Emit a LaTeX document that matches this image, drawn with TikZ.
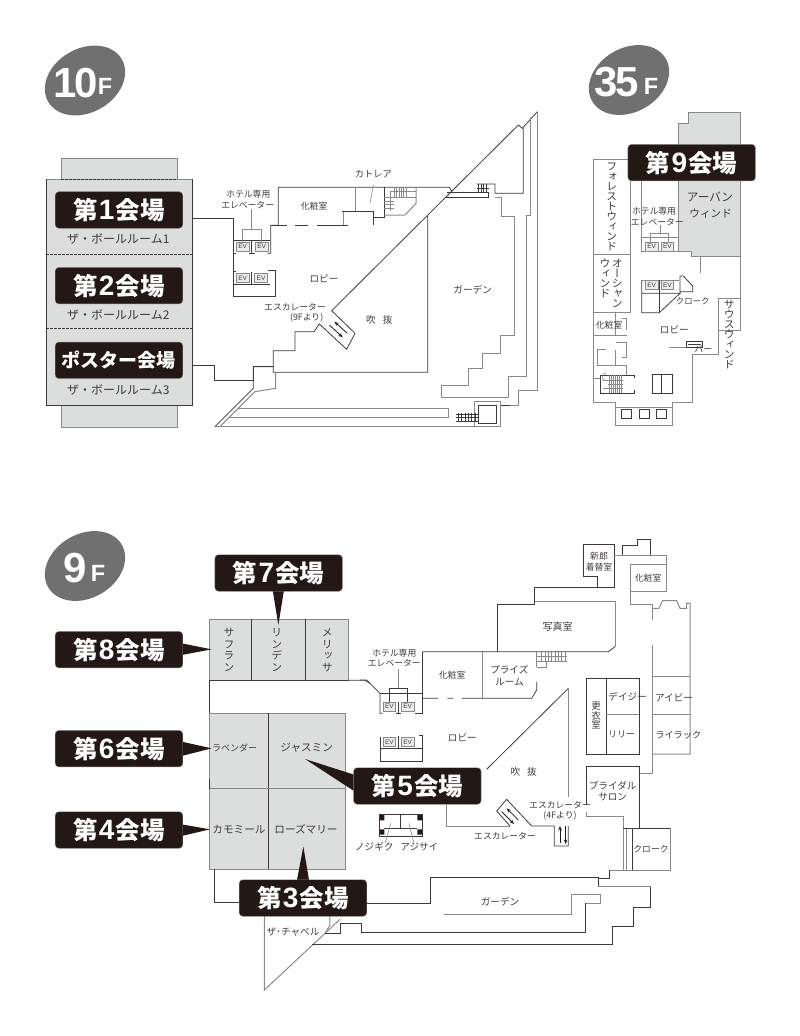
\documentclass[tikz,border=0pt]{standalone}
\usepackage{fontspec}
\setmainfont{Noto Sans CJK JP}
\newfontfamily\jp{Noto Sans CJK JP}
\newfontfamily\jpv[RawFeature={+vert}]{Noto Sans CJK JP}
\newfontfamily\lat{Liberation Sans}
\definecolor{dk}{HTML}{3E3A39}
\definecolor{md}{HTML}{898989}
\definecolor{rm}{HTML}{DCDDDD}
\definecolor{blk}{HTML}{231815}
\definecolor{oval}{HTML}{717071}
\definecolor{txt}{HTML}{3E3A39}
\newcommand{\fs}[1]{\fontsize{#1}{#1}\selectfont}
\newcommand{\hallt}[1]{第\hspace{1.2pt}{\lat\bfseries\fs{28}#1}\hspace{1.2pt}会場}
\newcommand{\vs}[1]{\jpv\fs{10.8}\baselineskip=#1pt\relax}
\newcommand{\vk}{\jp\fs{9.5}\baselineskip=9.5pt\relax}
\tikzset{
  dl/.style={draw=dk,line width=.8pt},
  gl/.style={draw=md,line width=1pt},
  room/.style={fill=rm,draw=md,line width=1pt},
  dash1/.style={draw=dk,line width=.8pt,dash pattern=on 2.5pt off 1.5pt},
  hall/.style={fill=blk,draw=md,line width=.4pt,rounded corners=3.5pt,minimum width=127.5pt,minimum height=36.5pt,inner sep=0pt,text=white,font=\jp\bfseries\fs{24.5}},
  lb/.style={inner sep=0pt,text=txt,align=center,font=\jp\fs{8.8}},
  lbg/.style={lb,font=\jp\fs{9.6}},
  lbm/.style={lb,font=\jp\fs{10.6}},
  lbb/.style={lb,font=\jp\fs{12}},
  fbig/.style={text=white,inner sep=0pt,font=\lat\bfseries\fs{42}},
  fsmall/.style={text=white,inner sep=0pt,font=\lat\bfseries\fs{23.5}},
  ev/.style={draw=md,fill=rm!60,line width=.9pt,minimum width=12.6pt,minimum height=9pt,inner sep=0pt,text=dk,font=\lat\fs{6.5}},
  badge/.style={fill=oval,draw=none},
  tip/.style={fill=blk,draw=none},
  arr/.style={draw=blk,line width=.8pt,-{Stealth[length=4.5pt,width=3.5pt]}},
  zA/.style={xshift=30pt,yshift=-40pt,x=.33333pt,y=-.33333pt},
  zB/.style={xshift=210pt,yshift=-120pt,x=.33333pt,y=-.33333pt},
  zC/.style={xshift=580pt,yshift=-60pt,x=.33333pt,y=-.33333pt},
  zD/.style={xshift=580pt,yshift=-250pt,x=.33333pt,y=-.33333pt},
  zE/.style={xshift=30pt,yshift=-520pt,x=.33333pt,y=-.33333pt},
  zF/.style={xshift=30pt,yshift=-760pt,x=.33333pt,y=-.33333pt},
  zG/.style={xshift=360pt,yshift=-530pt,x=.33333pt,y=-.33333pt},
  zH/.style={xshift=340pt,yshift=-740pt,x=.33333pt,y=-.33333pt},
}
\usetikzlibrary{arrows.meta}
\begin{document}
\begin{tikzpicture}[x=1pt,y=-1pt]
\useasboundingbox (0,0) rectangle (800,1036);

%% ---------- floor badges
\fill[badge,rotate around={30:(85,80.5)}] (85,80.5) ellipse [x radius=42.5,y radius=32];
\node[fbig] (b10) at (75.5,83) {1\kern-2pt0};
\node[fsmall] (b10f) at (105,86.5) {F};
\fill[badge,rotate around={30:(629,80)}] (629,80) ellipse [x radius=42.5,y radius=32];
\node[fbig] (b35) at (616.5,82) {3\kern-2pt5};
\node[fsmall] (b35f) at (651,86.5) {F};
\fill[badge,rotate around={30:(85,566)}] (85,566) ellipse [x radius=42.5,y radius=32];
\node[fbig] (b9) at (75,568) {9};
\node[fsmall] (b9f) at (98,573.5) {F};

%% ---------- 10F ballrooms
\begin{scope}[zA]
\path[room] (94,355) rectangle (442,418);
\path[room] (94,1096) rectangle (442,1162);
\path[room] (48,418) rectangle (487,1096);
\draw[dash1] (94,418) -- (442,418);
\draw[dash1] (94,1096) -- (442,1096);
\draw[dash1] (48,643) -- (487,643);
\draw[dash1] (48,866) -- (487,866);
\draw[dk,line width=1pt] (48,418) -- (48,1096) -- (487,1096) -- (487,418);
\node[hall] (h1) at (267,510) {\hallt{1}};
\node[hall] (h2) at (267,737) {\hallt{2}};
\node[hall,font=\jp\bfseries\fs{19}] (hp) at (267,961) {ポスター会場};
\node[lbb] (s1) at (265,597) {ザ・ボールルーム1};
\node[lbb] (s2) at (265,825) {ザ・ボールルーム2};
\node[lbb] (s3) at (265,1050) {ザ・ボールルーム3};
\draw[dl] (487,535) -- (610,535) -- (610,770) -- (735,770) -- (735,692) -- (722,692);
\draw[dl] (487,975) -- (553,975) -- (553,1020) -- (670,1020) -- (670,980) -- (730,980);
\end{scope}

%% ---------- 10F plan
\begin{scope}[zB]
% upper walls
\draw[dl] (125,400) -- (125,360);
\draw[dl] (70,360) -- (70,400) -- (78,400);
\draw[dl] (70,360) -- (180,360);
\draw[dl] (118,400) -- (135,400);
\draw[dl] (172,400) -- (182,400) -- (182,316) -- (205,316) -- (205,202) -- (718,202) -- (726,214);
\draw[dl] (182,316) -- (232,316) (255,316) -- (295,316) (322,316) -- (415,316);
\draw[gl] (437,202) -- (437,275);
\draw[dl] (397,275) -- (490,275) -- (490,316);
\draw[gl] (400,275) -- (400,316);
\draw[dl] (490,292) -- (523,292) -- (523,202);
\draw[gl] (523,285) -- (585,285) -- (618,250) -- (618,202);
\foreach \x in {553,560,...,588} \draw[md,line width=.6pt] (\x,202) -- (\x,232);
\draw[md,line width=.6pt] (553,232) -- (618,232) (540,215) -- (618,215);
\foreach \y in {232,243,254,265} \draw[md,line width=.6pt] (523,\y) -- (553,\y);
\draw[md,line width=.6pt] (540,215) -- (540,272);
\draw[gl,line width=.6pt] (490,195) -- (480,250);
% EV
\node[ev] (e1) at (98,380) {EV};
\node[ev] (e2) at (155,380) {EV};
\node[ev] (e3) at (98,475) {EV};
\node[ev] (e4) at (153,475) {EV};
\draw[dl] (78,453) -- (70,453) -- (70,400);
\draw[dl] (125,455) -- (125,493);
\draw[dl] (70,530) -- (70,400);
\draw[dl] (70,530) -- (197,530) -- (197,452) -- (175,452);
\draw[dl] (70,493) -- (180,493);
\draw[gl] (125,268) -- (125,328);
\draw[gl] (97,365) -- (97,328) -- (153,328) -- (153,365);
% atrium
\draw[dl] (925,15) -- (365,572) -- (435,640) -- (410,688) -- (328,612) -- (312,635) -- (255,635) -- (255,692) -- (190,692) -- (190,757) -- (653,757) -- (653,288);
\draw[arr] (412,640) -- (373,605);
\draw[arr] (358,615) -- (398,652);
% right structure
\draw[dl] (712,218) -- (835,218) -- (835,232) -- (708,232);
\draw[dl] (925,15) -- (937,25) -- (940,25) -- (940,220) -- (855,220) -- (855,192) -- (800,192);
\draw[dl] (937,25) -- (982,-25);
\foreach \x in {805,813,821,829} \draw[dk,line width=.5pt] (\x,192) -- (\x,218);
\draw[dk,line width=.5pt] (800,205) -- (838,205);
\draw[gl] (855,232) -- (875,232) -- (875,290) -- (913,290) -- (913,645) -- (870,645) -- (870,700) -- (818,700) -- (818,745) -- (775,745) -- (775,795) -- (695,795) -- (695,832) -- (895,832) -- (895,770) -- (948,770) -- (948,285) -- (960,285) -- (960,-10);
\draw[gl] (982,-25) -- (982,812) -- (925,812) -- (925,855) -- (870,855);
\draw[dl] (870,855) -- (900,855);
\draw[gl] (793,845) rectangle (870,920);
\draw[dl] (805,855) rectangle (860,910);
\draw[gl] (15,920) -- (793,920);
\draw[gl] (85,865) -- (715,865) -- (715,892) -- (60,892);
\draw[dl] (15,920) -- (130,805) -- (130,740) -- (190,740);
\draw[gl] (30,920) -- (135,815) -- (197,805) -- (197,757);
\foreach \x in {745,755,...,795} \draw[dk,line width=.5pt] (\x,880) -- (\x,905);
\draw[dk,line width=.5pt] (738,883) -- (805,883) (738,893) -- (805,893) (738,903) -- (805,903);
% labels
\node[lb,font=\jp\fs{9.2}] (t1) at (490,163) {カトレア};
\node[lb] (t2) at (115,222) {ホテル専用};
\node[lb] (t3) at (113,255) {エレベーター};
\node[lb] (t4) at (313,257) {化粧室};
\node[lbg] (t5) at (342,475) {ロビー};
\node[lb] (t6) at (255,562) {エスカレーター};
\node[lb] (t7) at (290,592) {(9Fより)};
\node[lbg] (t8) at (508,600) {吹\hspace{7pt}抜};
\node[lbg] (t9) at (788,510) {ガーデン};
\end{scope}

%% ---------- 35F
\begin{scope}[zC]
\path[room] (325,157) -- (480,157) -- (480,590) -- (335,590) -- (335,575) -- (295,575) -- (295,190) -- (325,190) -- cycle;
\draw[gl] (40,298) -- (143,298);
\draw[gl] (40,298) -- (40,582) -- (150,582);
\draw[gl] (150,362) -- (150,582);
\draw[gl] (185,362) -- (185,575) -- (295,575);
\draw[gl] (185,532) -- (295,532);
\draw[gl] (212,545) -- (212,520) -- (265,520) -- (265,545);
\draw[gl] (240,495) -- (240,520);
\node[ev] (e5) at (215,560) {EV};
\node[ev] (e6) at (262,560) {EV};
\node[hall] (h9) at (335,308) {\hallt{9}};
\node[inner sep=0pt,text=txt,font=\vs{10},align=center] (v1) at (95,442) {フ\\ォ\\レ\\ス\\ト\\ウ\\ィ\\ン\\ド};
\node[lb] (t10) at (222,455) {ホテル専用};
\node[lb] (t11) at (232,487) {エレベーター};
\node[lb,font=\jp\fs{11.6}] (t12) at (390,412) {アーバン};
\node[lbm] (t13) at (392,462) {ウィンド};
\end{scope}
\begin{scope}[zD]
\draw[gl] (40,12) -- (40,457) -- (107,457) -- (107,525) -- (277,525) -- (277,457) -- (337,457) -- (337,313) -- (415,313) -- (415,145) -- (480,145) -- (480,242) -- (415,242);
\draw[gl] (480,0) -- (480,145);
\draw[gl] (40,12) -- (150,12);
\draw[gl] (150,0) -- (150,188) -- (40,188);
\draw[gl] (360,18) -- (360,70);
\draw[gl] (107,188) -- (107,255) -- (40,255);
\draw[gl] (107,255) -- (140,255) (140,205) -- (140,240) (125,205) -- (140,205);
\draw[gl] (107,278) -- (140,278) -- (140,322) -- (125,322);
\draw[gl] (78,297) -- (52,297) -- (52,347) -- (140,347) -- (140,375);
\draw[gl] (107,300) -- (107,347);
\draw[gl] (40,385) -- (60,385);
\draw[dl] (163,385) -- (163,375) -- (60,375) -- (60,430) -- (163,430) -- (163,420);
\draw[gl] (107,457) -- (107,473) -- (277,473);
\foreach \x in {88,94,...,124} \draw[md,line width=.6pt] (\x,375) -- (\x,430);
\draw[md,line width=.6pt] (70,392) -- (128,392) (85,402) -- (128,402) (70,415) -- (128,415);
\draw[md,line width=.6pt] (78,392) arc[start angle=90,end angle=270,radius=11.5];
\foreach \x in {123,177,228} \draw[dl] (\x,478) rectangle (\x+32,505);
\draw[dl] (218,373) rectangle (277,430);
\draw[dl] (245,373) -- (245,430);
\draw[gl] (268,293) -- (320,293);
\draw[dl] (320,293) -- (320,275) -- (368,275) -- (368,293) -- cycle;
\draw[dl] (325,282) -- (362,282);
% EV and cloak
\draw[gl] (185,90) -- (298,90);
\draw[dl] (185,90) -- (185,188) -- (238,188) -- (300,130) -- (185,130);
\draw[dl] (238,90) -- (238,188);
\draw[dl] (300,130) -- (300,78) -- (310,78) -- (338,108) -- (338,125) -- (300,125);
\node[ev] (e7) at (215,106) {EV};
\node[ev] (e8) at (262,106) {EV};
\node[inner sep=0pt,text=txt,font=\vs{10},align=center] (v2) at (75,85) {ウ\\ィ\\ン\\ド};
\node[inner sep=0pt,text=txt,font=\vs{10},align=center] (v3) at (112,100) {オ\\ー\\シ\\ャ\\ン};
\node[inner sep=0pt,text=txt,font=\vs{10},align=center] (v4) at (448,255) {サ\\ウ\\ス\\ウ\\ィ\\ン\\ド};
\node[lb,font=\jp\fs{8.4}] (t14) at (338,155) {クローク};
\node[lb] (t15) at (88,225) {化粧室};
\node[lbg] (t16) at (283,240) {ロビー};
\node[lb] (t17) at (370,298) {バー};
\end{scope}

%% ---------- 9F left
\begin{scope}[zE]
\path[room] (538,298) rectangle (956,481);
\draw[dk,line width=.8pt] (665,298) -- (665,481) (826,298) -- (826,481);
\path[room] (538,580) rectangle (946,820);
\draw[dk,line width=.8pt] (715,580) -- (715,820);
\draw[dl] (956,481) -- (1005,481) -- (1020,490);
\draw[dl] (538,481) -- (956,481);
\draw[dl] (538,481) -- (538,580);
\fill[tip] (728,210) -- (762,210) -- (745,315) -- cycle;
\node[hall] (h7) at (746,159) {\hallt{7}};
\fill[tip] (455,370) -- (455,405) -- (545,388) -- cycle;
\node[hall] (h8) at (267,389) {\hallt{8}};
\fill[tip] (455,665) -- (455,708) -- (545,685) -- cycle;
\node[hall] (h6) at (267,686) {\hallt{6}};
\node[inner sep=0pt,text=txt,font=\vs{11.7},align=center] (v5) at (597,390) {サ\\フ\\ラ\\ン};
\node[inner sep=0pt,text=txt,font=\vs{11.7},align=center] (v6) at (740,390) {リ\\ン\\デ\\ン};
\node[inner sep=0pt,text=txt,font=\vs{11.7},align=center] (v7) at (892,390) {メ\\リ\\ッ\\サ};
\node[lb,font=\jp\fs{9}] (t18) at (614,685) {ラベンダー};
\node[lbm] (t19) at (830,682) {ジャスミン};
\end{scope}
\begin{scope}[zF]
\path[room] (538,86) rectangle (946,327);
\draw[dk,line width=.8pt] (715,86) -- (715,327);
\draw[dl] (538,58) -- (538,86);
\draw[dl] (553,327) -- (553,428) -- (628,428);
\draw[gl] (703,468) -- (703,690) -- (930,478);
\draw[gl] (900,468) -- (900,495) -- (885,520);
\draw[dl] (885,520) -- (930,520) -- (930,490) -- (995,490) -- (995,518) -- (1020,518);
\draw[dl] (855,553) -- (1020,553);
\fill[tip] (455,193) -- (455,228) -- (540,208) -- cycle;
\node[hall] (h4) at (267,210) {\hallt{4}};
\fill[tip] (800,365) -- (838,365) -- (820,260) -- cycle;
\node[hall] (h3) at (819,414) {\hallt{3}};
\node[lbm] (t20) at (627,208) {カモミール};
\node[lbm] (t21) at (828,207) {ローズマリー};
\node[lb,font=\jp\fs{9.6}] (t22) at (789,515) {ザ･チャペル};
\end{scope}

%% ---------- 9F right upper
\begin{scope}[zG]
\draw[dl] (0,450) -- (20,450) -- (60,490) -- (60,550) -- (68,550);
\draw[dl] (60,490) -- (187,490);
\draw[dl] (115,550) -- (115,515);
\draw[dl] (108,550) -- (122,550);
\draw[dl] (165,550) -- (187,550) -- (187,365);
\draw[dl] (187,365) -- (745,365) -- (765,350);
\draw[gl] (765,350) -- (765,213) -- (523,213);
\draw[dl] (411,365) -- (411,222) -- (522,222) -- (522,172) -- (763,172) -- (763,43) -- (670,43) -- (670,138) -- (713,138) -- (713,172);
\draw[gl] (763,75) -- (918,75) -- (918,183) -- (812,183);
\draw[dl] (788,75) -- (788,45) -- (833,45) -- (833,28) -- (870,28) -- (870,75);
\draw[gl] (812,103) -- (918,103);
\draw[gl] (812,103) -- (812,222) -- (877,222) -- (877,270);
\draw[gl] (877,235) -- (897,235) -- (908,212) -- (950,212) -- (960,235) -- (980,235) -- (980,220) -- (990,220) -- (990,672) -- (877,672);
\draw[gl] (877,345) -- (877,730) -- (838,730);
\draw[gl] (877,440) -- (990,440);
\draw[gl] (877,552) -- (990,552);
\draw[dl] (680,445) rectangle (838,672);
\draw[dl] (738,445) -- (738,672);
\draw[gl] (738,552) -- (838,552);
% cosmetics, prize room
\draw[gl] (368,365) -- (368,505);
\draw[dl] (187,505) -- (235,505) (262,505) -- (280,505) (305,505) -- (515,505) -- (530,480) -- (530,455);
\draw[md,line width=.6pt] (530,365) -- (530,412) (530,378) -- (620,378) (530,395) -- (620,395) (530,412) -- (560,412) -- (560,395);
\foreach \x in {545,555,...,615} \draw[md,line width=.6pt] (\x,365) -- (\x,395);
% EV
\node[ev] (e9) at (88,530) {EV};
\node[ev] (e10) at (143,530) {EV};
\node[ev] (e11) at (88,636) {EV};
\node[ev] (e12) at (143,636) {EV};
\draw[dl] (60,620) -- (60,695) -- (187,695) -- (187,617) -- (178,617);
\draw[dl] (60,655) -- (187,655);
\draw[dl] (116,617) -- (116,655);
\draw[gl] (115,418) -- (115,475);
\draw[dl] (88,515) -- (88,475) -- (143,475) -- (143,515);
% atrium top
\draw[dl] (625,475) -- (380,718);
\draw[gl] (625,475) -- (625,800);
\node[lb] (t23) at (717,78) {新郎};
\node[lb] (t24) at (717,110) {着替室};
\node[lb] (t25) at (865,143) {化粧室};
\node[lb,font=\jp\fs{10}] (t26) at (593,290) {写真室};
\node[lbg] (t27) at (448,418) {プライズ};
\node[lbg] (t28) at (448,457) {ルーム};
\node[lb] (t29) at (277,434) {化粧室};
\node[lb] (t30) at (103,370) {ホテル専用};
\node[lb] (t31) at (103,400) {エレベーター};
\node[lbg] (t32) at (307,622) {ロビー};
\node[lbg] (t33) at (803,500) {デイジー};
\node[lb] (t34) at (785,613) {リリー};
\node[lbg] (t35) at (942,502) {アイビー};
\node[lb,font=\jp\fs{9.2}] (t36) at (955,615) {ライラック};
\node[inner sep=0pt,text=txt,font=\vk,align=center] (v8) at (708,557) {更\\衣\\室};
\end{scope}

%% ---------- 9F right lower
\begin{scope}[zH]
\fill[tip] (45,105) -- (45,155) -- (-105,57) -- cycle;
\node[hall] (h5) at (232,138) {\hallt{5}};
% pillars
\draw[dl] (118,222) rectangle (247,290);
\draw[dl] (133,265) -- (232,265);
\draw[dl] (182,222) -- (182,265);
\fill[blk] (120,225) rectangle (133,241) (232,225) rectangle (246,241) (120,268) rectangle (133,284) (232,268) rectangle (246,284);
\draw[md,line width=.6pt] (152,250) -- (135,310) (207,250) -- (222,310);
% atrium bottom
\draw[gl] (318,193) -- (318,258) -- (510,258);
\draw[dl] (510,258) -- (470,213) -- (500,178) -- (575,258) -- (643,258) -- (643,318) -- (685,318) -- (685,258);
\draw[gl] (685,90) -- (685,168);
\draw[arr] (535,240) -- (500,205);
\draw[arr] (485,215) -- (522,252);
\draw[arr] (660,310) -- (660,258);
\draw[arr] (677,258) -- (677,312);
% bridal
\draw[dl] (738,195) -- (738,80) -- (898,80) -- (898,265);
\draw[gl] (738,215) -- (738,228) -- (850,228) -- (850,390);
\draw[gl] (858,265) -- (858,390);
\draw[dl] (877,265) -- (877,390);
\draw[dl] (850,265) -- (990,265);
\draw[gl] (990,265) -- (990,390) -- (808,390);
\draw[dl] (808,390) -- (808,415) -- (775,415);
% garden
\draw[dl] (80,490) -- (272,490) -- (272,412) -- (775,412) -- (775,440);
\draw[gl] (775,440) -- (932,440);
\draw[dl] (932,440) -- (932,502) -- (880,502) -- (880,560) -- (818,560) -- (818,613) -- (-85,613);
\draw[gl] (313,523) -- (695,523) -- (695,463) -- (782,463) -- (782,490) -- (737,490);
\draw[dl] (737,490) -- (737,577) -- (65,577);
\node[lbg] (t37) at (551,95) {吹\hspace{7pt}抜};
\node[lbg] (t38) at (818,137) {ブライダル};
\node[lbg] (t39) at (818,172) {サロン};
\node[lb] (t40) at (660,195) {エスカレーター};
\node[lb] (t41) at (660,226) {(4Fより)};
\node[lb] (t42) at (495,287) {エスカレーター};
\node[lbg] (t43) at (103,320) {ノジギク};
\node[lbg] (t44) at (238,320) {アジサイ};
\node[lbg] (t45) at (480,485) {ガーデン};
\node[lb] (t46) at (933,328) {クローク};
\end{scope}
\end{tikzpicture}
\end{document}
